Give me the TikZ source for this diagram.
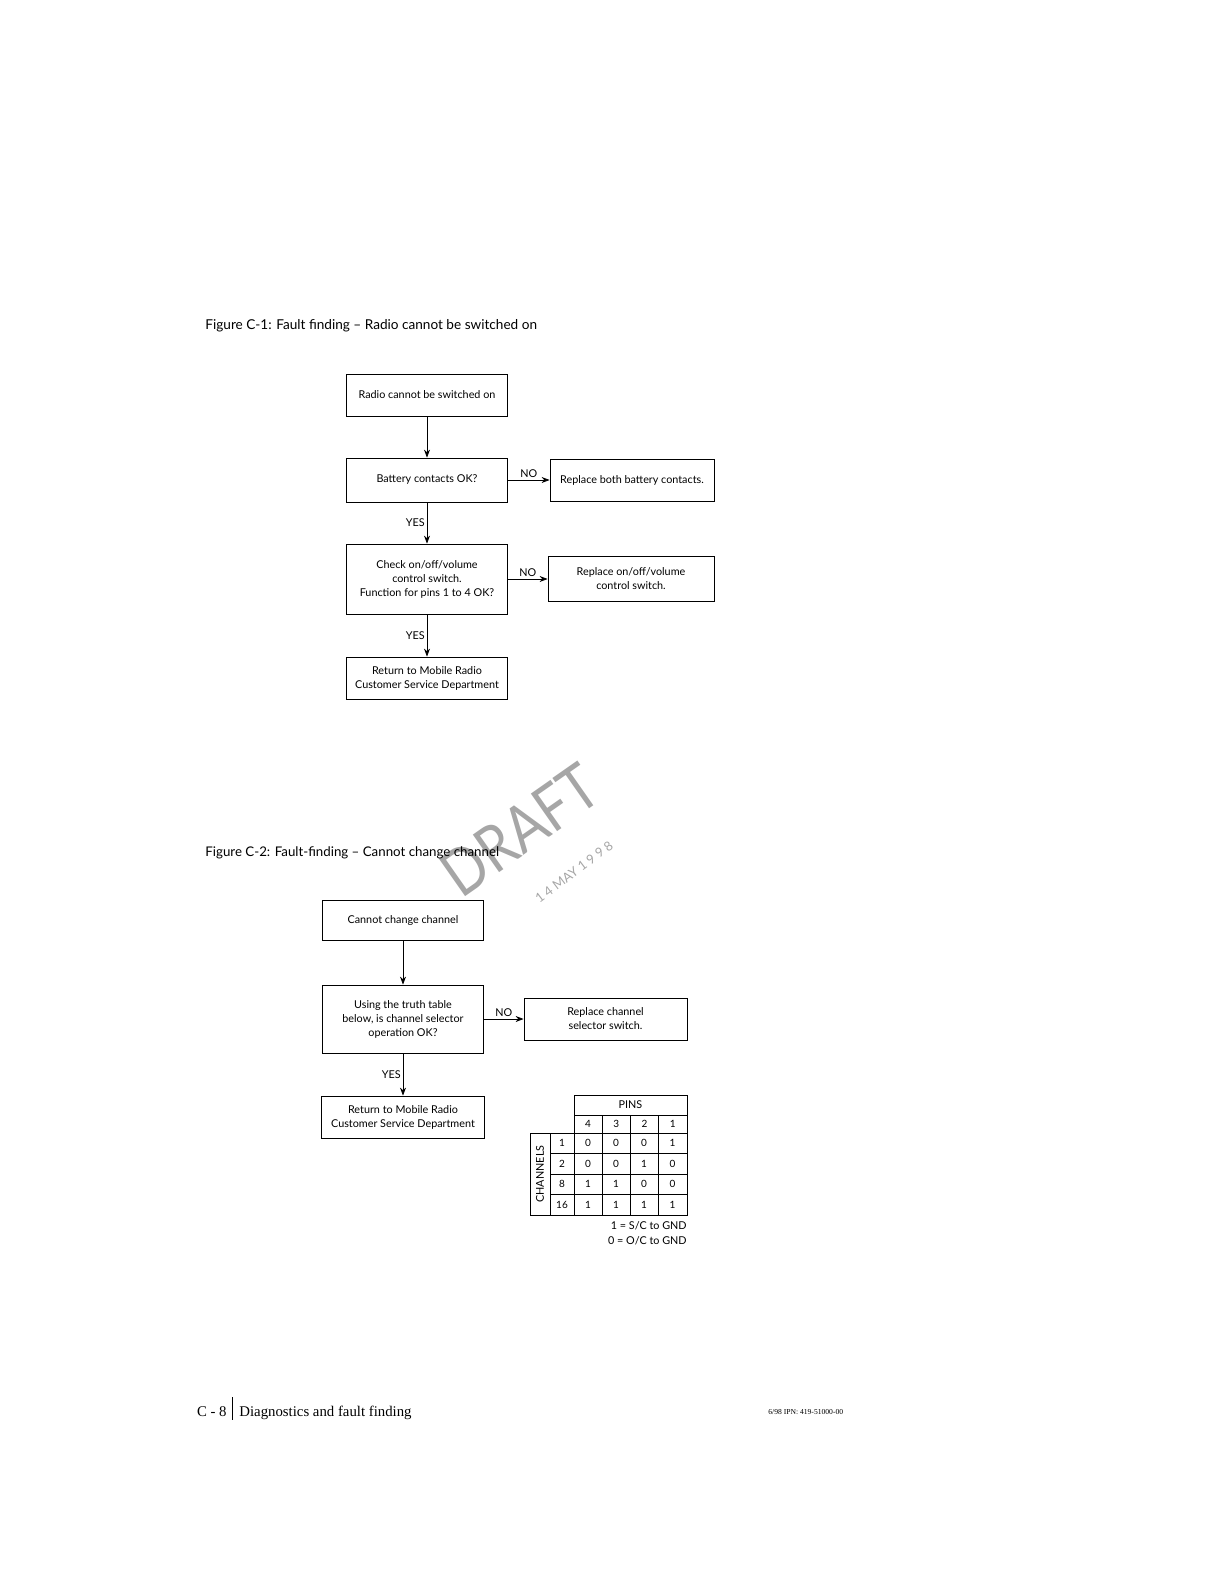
\documentclass[tikz,border=0pt]{standalone}
\usepackage{fontspec}
\setmainfont{Lato}
\newfontfamily\footfont{Liberation Serif}
\usetikzlibrary{arrows.meta, positioning}

\begin{document}
\begin{tikzpicture}[x=0.5pt, y=-0.5pt,
  fbox/.style={draw, minimum width=80.5pt, minimum height=21pt, inner sep=1pt, align=center, font=\fontsize{5.4}{7}\selectfont},
  arr/.style={-{Stealth[length=4pt, width=3pt]}, thin},
  lbl/.style={font=\fontsize{5.4}{7}\selectfont, inner sep=1pt},
  figcap/.style={anchor=west, inner sep=0pt, font=\fontsize{6.8}{8}\selectfont},
  cell/.style={inner sep=0pt, font=\fontsize{5}{6}\selectfont}
]
  \useasboundingbox (0,0) rectangle (1224,1584);

  % stamp
  \node[gray!70, rotate=35, xscale=0.85, inner sep=0pt, font=\fontsize{32}{32}\selectfont] (draft) at (520, 830) {DRAFT};
  \node[gray!70, rotate=37, inner sep=0pt, font=\fontsize{6.5}{8}\selectfont] (date) at (574, 872) {1 4 MAY 1 9 9 8};

  % Figure C-1
  \node[figcap] (cap1) at (205, 326) {Figure C-1: Fault finding -- Radio cannot be switched on};

  \node[fbox] (start1) at (427, 395) {Radio cannot be switched on};
  \node[fbox, minimum height=22pt] (batt) at (427, 480) {Battery contacts OK?};
  \node[fbox, minimum width=82pt] (replbatt) at (632, 480) {Replace both battery contacts.};
  \node[fbox, minimum height=35pt] (switch) at (427, 579) {Check on/off/volume\\control switch.\\Function for pins 1 to 4 OK?};
  \node[fbox, minimum width=83pt, minimum height=22.5pt] (replswitch) at (631, 579) {Replace on/off/volume\\control switch.};
  \node[fbox] (return1) at (427, 678) {Return to Mobile Radio\\Customer Service Department};

  \draw[arr] (start1) -- (batt);
  \draw[arr] (batt) -- node[lbl, above] {NO} (replbatt);
  \draw[arr] (batt) -- node[lbl, left] {YES} (switch);
  \draw[arr] (switch) -- node[lbl, above] {NO} (replswitch);
  \draw[arr] (switch) -- node[lbl, left] {YES} (return1);

  % Figure C-2
  \node[figcap, font=\fontsize{6.65}{8}\selectfont] (cap2) at (205, 853) {Figure C-2: Fault-finding -- Cannot change channel};

  \node[fbox, minimum height=20pt] (start2) at (403, 920) {Cannot change channel};
  \node[fbox, minimum height=34pt] (select) at (403, 1019) {Using the truth table\\below, is channel selector\\operation OK?};
  \node[fbox, minimum width=81.5pt] (replselect) at (605.5, 1019) {Replace channel\\selector switch.};
  \node[fbox, minimum width=81.5pt] (return2) at (403, 1117) {Return to Mobile Radio\\Customer Service Department};

  \draw[arr] (start2) -- (select);
  \draw[arr] (select) -- node[lbl, above] {NO} (replselect);
  \draw[arr] (select) -- node[lbl, left] {YES} (return2);

  % Truth table
  \draw (574, 1095) rectangle (687, 1115);
  \node[cell, font=\fontsize{5.4}{7}\selectfont] (pins) at (630.5, 1105) {PINS};
  \draw (574, 1115) rectangle (687, 1133);
  \draw (530, 1133) rectangle (687, 1215);
  \foreach \x in {602, 630, 658}
    \draw (\x, 1115) -- (\x, 1215);
  \draw (550, 1133) -- (550, 1215);
  \draw (574, 1133) -- (574, 1215);
  \foreach \y in {1153.5, 1174, 1194.5}
    \draw (550, \y) -- (687, \y);
  \foreach \p [count=\j] in {4, 3, 2, 1}
    \node[cell] (pin-\j) at (574 + 28.25*\j - 14.125, 1124) {\p};
  \node[cell, rotate=90, font=\fontsize{5.4}{7}\selectfont] (chan) at (540, 1174) {CHANNELS};
  \foreach \ch/\a/\b/\c/\d [count=\i] in {1/0/0/0/1, 2/0/0/1/0, 8/1/1/0/0, 16/1/1/1/1} {
    \node[cell] (ch-\i) at (562, 1133 + 20.5*\i - 10.25) {\ch};
    \node[cell] (v-\i-1) at (588, 1133 + 20.5*\i - 10.25) {\a};
    \node[cell] (v-\i-2) at (616, 1133 + 20.5*\i - 10.25) {\b};
    \node[cell] (v-\i-3) at (644, 1133 + 20.5*\i - 10.25) {\c};
    \node[cell] (v-\i-4) at (672.5, 1133 + 20.5*\i - 10.25) {\d};
  }
  \node[cell, anchor=east, font=\fontsize{5.4}{7}\selectfont] (key1) at (687, 1226) {1 = S/C to GND};
  \node[cell, anchor=east, font=\fontsize{5.4}{7}\selectfont] (key0) at (687, 1241) {0 = O/C to GND};

  % footer
  \node[anchor=east, inner sep=0pt, font=\footfont\fontsize{7.4}{9}\selectfont] (pageno) at (227, 1412) {C - 8};
  \draw (232, 1397) -- (232, 1420);
  \node[anchor=west, inner sep=0pt, font=\footfont\fontsize{7.4}{9}\selectfont] (chapter) at (239, 1413) {Diagnostics and fault finding};
  \node[anchor=west, inner sep=0pt, font=\footfont\fontsize{3.8}{5}\selectfont] (ipn) at (768, 1412) {6/98 IPN: 419-51000-00};
\end{tikzpicture}
\end{document}
